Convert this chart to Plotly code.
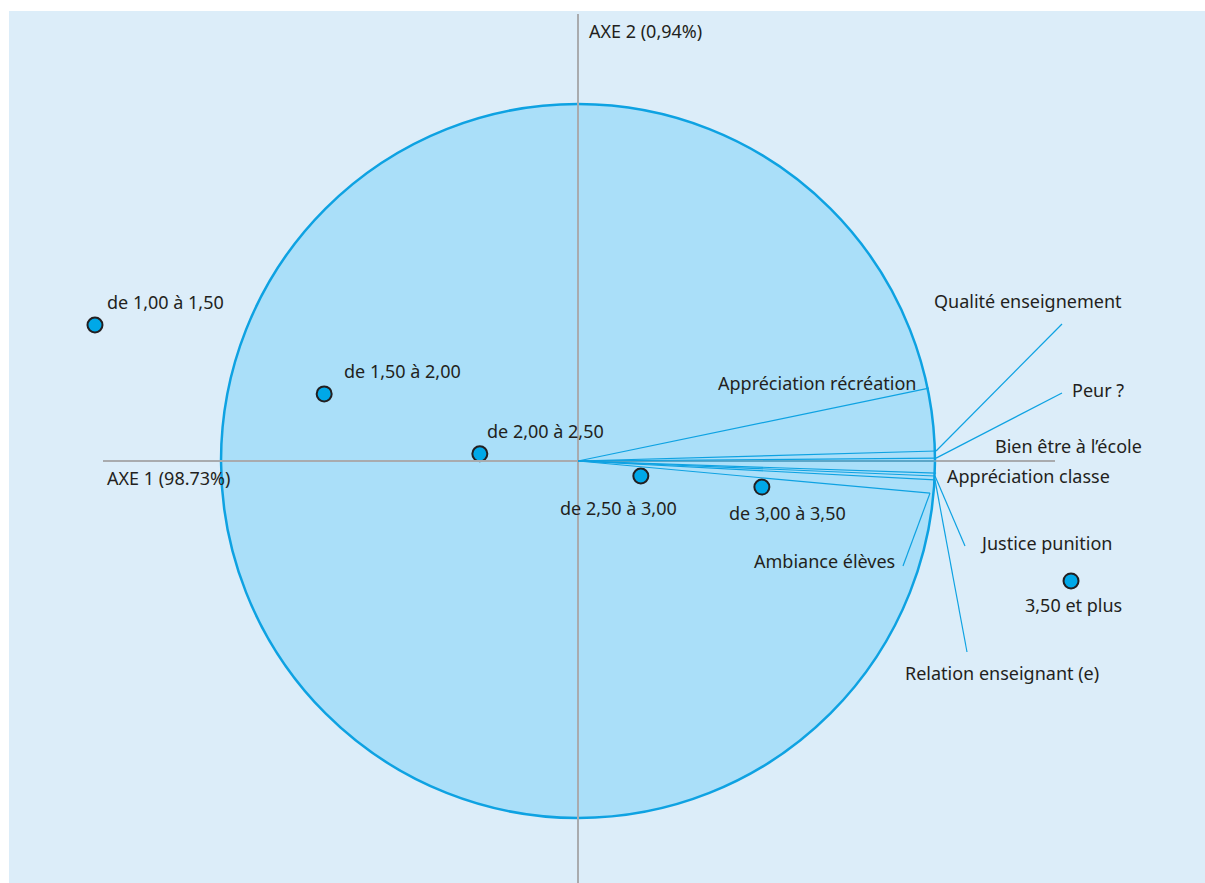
import plotly.graph_objects as go

# ---- data (correlation-circle units) ----
class_labels = ["de 1,00 à 1,50", "de 1,50 à 2,00", "de 2,00 à 2,50",
                "de 2,50 à 3,00", "de 3,00 à 3,50", "3,50 et plus"]
class_x = [-1.353, -0.711, -0.275, 0.176, 0.515, 1.381]
class_y = [0.381, 0.188, 0.020, -0.042, -0.073, -0.336]

var_labels = ["Appréciation récréation", "Qualité enseignement", "Peur ?",
              "Bien être à l\u2019école", "Appréciation classe", "Justice punition",
              "Relation enseignant (e)", "Ambiance élèves"]
var_x = [0.983, 1.003, 1.003, 1.003, 1.003, 1.000, 1.000, 0.986]
var_y = [0.204, 0.028, 0.008, 0.000, -0.034, -0.042, -0.053, -0.090]

axis1_label = "AXE 1 (98.73%)"
axis2_label = "AXE 2 (0,94%)"

# ---- layout helpers (pixels) ----
W, H = 1205, 883
CX, CY, R = 578, 461, 357.0


def px2u(px):
    return (px - CX) / R


def py2v(py):
    return (CY - py) / R


# label anchor (x, centre y) in pixels for the class points
class_label_pos = [(105, 302), (342, 371), (485, 431), (558, 508), (727, 513), (1023, 605)]
# leader end (pixels) or None; label position (x, centre y, xanchor)
var_leader_end = [None, (1062, 324), (1062, 393), None, None, (965, 546), (967, 652), (903, 566)]
var_label_pos = [(918, 383, "right"), (932, 301, "left"), (1070, 390, "left"),
                 (993, 446, "left"), (945, 476, "left"), (978, 543, "left"),
                 (903, 673, "left"), (897, 561, "right")]

BLUE = "#0ea2e2"
TXT = "#231f20"
FONT = dict(family="Noto Sans, Liberation Sans, Arial, sans-serif", size=18, color=TXT)

fig = go.Figure()

shapes = [
    # panel background
    dict(type="rect", xref="paper", yref="paper", x0=9 / W, x1=1, y0=0, y1=1 - 11 / H,
         fillcolor="#dcedf9", line=dict(width=0), layer="below"),
    # correlation circle
    dict(type="circle", xref="x", yref="y", x0=-1, x1=1, y0=-1, y1=1,
         fillcolor="#aadff9", line=dict(color=BLUE, width=2.5), layer="below"),
    # axes
    dict(type="line", xref="x", yref="y", x0=0, x1=0, y0=py2v(883), y1=py2v(14),
         line=dict(color="#a9abae", width=2)),
    dict(type="line", xref="x", yref="y", x0=px2u(103), x1=px2u(1055), y0=0, y1=0,
         line=dict(color="#a9abae", width=2)),
]

# vectors
for vx, vy in zip(var_x, var_y):
    shapes.append(dict(type="line", xref="x", yref="y", x0=0, y0=0, x1=vx, y1=vy,
                       line=dict(color=BLUE, width=1.2)))
# leader lines
for (vx, vy), end in zip(zip(var_x, var_y), var_leader_end):
    if end is not None:
        shapes.append(dict(type="line", xref="x", yref="y", x0=vx, y0=vy,
                           x1=px2u(end[0]), y1=py2v(end[1]),
                           line=dict(color=BLUE, width=1.2)))

fig.add_trace(go.Scatter(
    x=class_x, y=class_y, mode="markers",
    marker=dict(size=15, color="#00a8e8", line=dict(color=TXT, width=2)),
    hoverinfo="text", text=class_labels, showlegend=False))

annotations = []
for lab, (lx, ly) in zip(class_labels, class_label_pos):
    annotations.append(dict(x=px2u(lx), y=py2v(ly), text=lab, showarrow=False,
                            xanchor="left", yanchor="middle", font=FONT))
for lab, (lx, ly, anc) in zip(var_labels, var_label_pos):
    annotations.append(dict(x=px2u(lx), y=py2v(ly), text=lab, showarrow=False,
                            xanchor=anc, yanchor="middle", font=FONT))
annotations.append(dict(x=px2u(105), y=py2v(478), text=axis1_label, showarrow=False,
                        xanchor="left", yanchor="middle", font=FONT))
annotations.append(dict(x=px2u(587), y=py2v(31), text=axis2_label, showarrow=False,
                        xanchor="left", yanchor="middle", font=FONT))

fig.update_layout(
    width=W, height=H, margin=dict(l=0, r=0, t=0, b=0),
    paper_bgcolor="white", plot_bgcolor="rgba(0,0,0,0)",
    shapes=shapes, annotations=annotations,
    xaxis=dict(range=[px2u(0), px2u(W)], visible=False, fixedrange=True),
    yaxis=dict(range=[py2v(H), py2v(0)], visible=False, fixedrange=True),
)

fig.write_html("out.html", config={"displayModeBar": False},
               post_script="document.body.style.margin='0';document.body.style.overflow='hidden';")
